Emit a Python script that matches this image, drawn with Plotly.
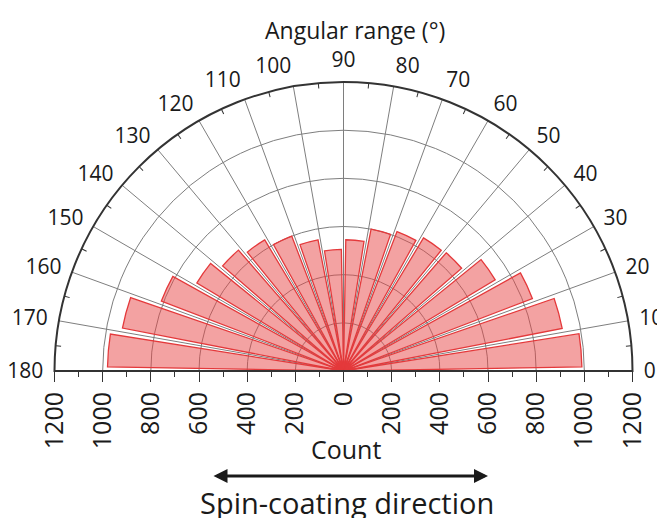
import plotly.graph_objects as go

# ---- data ----
bin_centers = [5, 15, 25, 35, 45, 55, 65, 75, 85, 95, 105, 115, 125, 135, 145, 155, 165, 175]
counts = [990, 925, 840, 735, 650, 645, 620, 600, 545, 505, 555, 600, 635, 665, 710, 810, 935, 980]
angle_ticks = list(range(0, 181, 10))
angle_minor = list(range(5, 180, 10))
count_ticks = list(range(-1200, 1201, 200))
count_labels = [str(abs(v)) for v in count_ticks]

OFF = 8  # page body margin
W, H = 665 - 2 * OFF, 526 - 2 * OFF
cx, cy, R = 343.5 - OFF, 371.0 - OFF, 289.0
xdom = [(cx - R) / W, (cx + R) / W]
ydom = [1 - cy / H, 1 - (cy - R) / H]

def px(x):
    return (x - OFF) / W

def py(y):
    return 1 - (y - OFF) / H

RED = "#e4393b"
GRID = "#7e7e7e"
DARK = "#333333"
FONT = "Open Sans"

fig = go.Figure()
fig.add_trace(go.Barpolar(
    r=counts, theta=bin_centers, width=[8] * len(counts),
    marker=dict(color="rgba(232,70,70,0.5)", line=dict(color=RED, width=1.3)),
    subplot="polar", hoverinfo="skip", showlegend=False))
# minor angular ticks (overlay polar)
fig.add_trace(go.Barpolar(r=[], theta=[], subplot="polar2", showlegend=False))
# cartesian count axis
fig.add_trace(go.Scatter(x=[], y=[], xaxis="x", yaxis="y", showlegend=False))

fig.update_layout(
    width=W, height=H, margin=dict(l=0, r=0, t=0, b=0, autoexpand=False),
    paper_bgcolor="white", plot_bgcolor="rgba(0,0,0,0)",
    font=dict(family=FONT, color="#1a1a1a", size=20),
    polar=dict(
        domain=dict(x=xdom, y=ydom), sector=[0, 180], bgcolor="rgba(0,0,0,0)",
        radialaxis=dict(range=[0, 1200], tickvals=list(range(0, 1201, 200)),
                        showticklabels=False, ticks="", showline=False,
                        gridcolor=GRID, gridwidth=1.4),
        angularaxis=dict(rotation=0, direction="counterclockwise", tickmode="array",
                         tickvals=angle_ticks, ticktext=[str(a) for a in angle_ticks],
                         ticks="outside", ticklen=6, tickcolor="rgba(0,0,0,0)",
                         gridcolor=GRID, gridwidth=1.4,
                         showline=True, linecolor=DARK, linewidth=2,
                         tickfont=dict(size=21, family=FONT))),
    polar2=dict(
        domain=dict(x=xdom, y=ydom), sector=[0, 180], bgcolor="rgba(0,0,0,0)",
        radialaxis=dict(range=[0, 1200], visible=False),
        angularaxis=dict(rotation=0, direction="counterclockwise", tickmode="array",
                         tickvals=angle_minor, showticklabels=False,
                         ticks="inside", ticklen=5, tickcolor=DARK, tickwidth=1.3,
                         showgrid=False, showline=False)),
    xaxis=dict(domain=xdom, range=[-1200, 1200], anchor="free", position=ydom[0],
               automargin=False,
               tickmode="array", tickvals=count_ticks, ticktext=count_labels,
               tickangle=-90, ticks="outside", ticklen=10, tickwidth=1.4, tickcolor=DARK,
               minor=dict(dtick=100, ticks="outside", ticklen=5, tickcolor=DARK, tickwidth=1.3),
               showline=True, linecolor=DARK, linewidth=2,
               showgrid=False, zeroline=False,
               tickfont=dict(size=25, family=FONT)),
    yaxis=dict(domain=[0, ydom[0]], range=[0, 1], visible=False, automargin=False),
    annotations=[
        dict(text="Angular range (°)", x=px(355), y=py(30), xref="paper", yref="paper",
             showarrow=False, font=dict(size=23, family=FONT), xanchor="center", yanchor="middle"),
        dict(text="Count", x=px(346), y=py(449), xref="paper", yref="paper",
             showarrow=False, font=dict(size=25, family=FONT), xanchor="center", yanchor="middle"),
        dict(text="Spin-coating direction", x=px(347), y=py(502), xref="paper", yref="paper",
             showarrow=False, font=dict(size=29, family=FONT), xanchor="center", yanchor="middle"),
        dict(x=px(488), y=py(476), ax=-276, ay=0, xref="paper", yref="paper",
             axref="pixel", ayref="pixel", text="", showarrow=True, arrowhead=2,
             arrowside="end+start", arrowsize=1.0, arrowwidth=2.8, arrowcolor="#1a1a1a"),
    ],
)

fig.write_html("out.html")
